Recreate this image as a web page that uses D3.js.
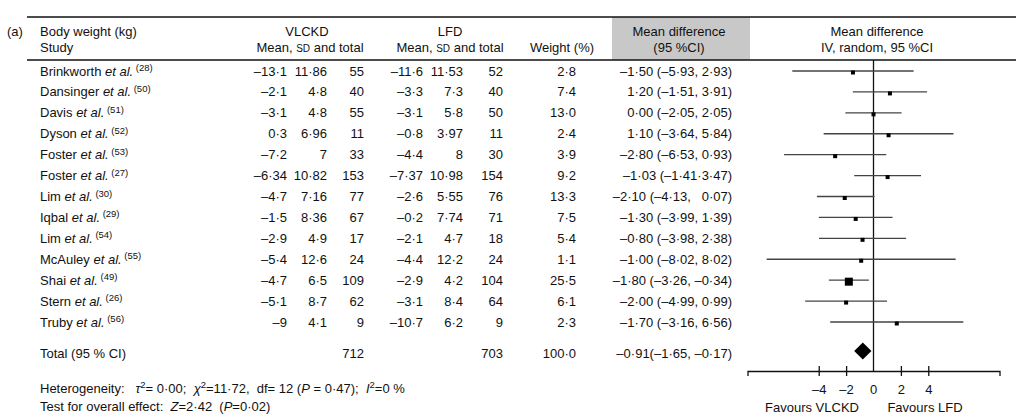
<!DOCTYPE html>
<html>
<head>
<meta charset="utf-8">
<script src="https://cdn.jsdelivr.net/npm/d3@7/dist/d3.min.js"></script>
<style>
body{margin:0;background:#fff;}
svg text{font-family:"Liberation Sans",Arial,sans-serif;font-size:13px;fill:#111;}
</style>
</head>
<body>
<div id="chart-area"></div>
<script>
// ---------- DATA ----------
let studies=["Brinkworth","Dansinger","Davis","Dyson","Foster","Foster","Lim","Iqbal","Lim","McAuley","Shai","Stern","Truby"];
let refs=[28,50,51,52,53,27,30,29,54,55,49,26,56];
let vlMean=[-13.1,-2.1,-3.1,0.3,-7.2,-6.34,-4.7,-1.5,-2.9,-5.4,-4.7,-5.1,-9];
let vlSD=[11.86,4.8,4.8,6.96,7,10.82,7.16,8.36,4.9,12.6,6.5,8.7,4.1];
let vlN=[55,40,55,11,33,153,77,67,17,24,109,62,9];
let lfMean=[-11.6,-3.3,-3.1,-0.8,-4.4,-7.37,-2.6,-0.2,-2.1,-4.4,-2.9,-3.1,-10.7];
let lfSD=[11.53,7.3,5.8,3.97,8,10.98,5.55,7.74,4.7,12.2,4.2,8.4,6.2];
let lfN=[52,40,50,11,30,154,76,71,18,24,104,64,9];
let weight=[2.8,7.4,13.0,2.4,3.9,9.2,13.3,7.5,5.4,1.1,25.5,6.1,2.3];
let ciText=["–1·50 (–5·93, 2·93)","1·20 (–1·51, 3·91)","0·00 (–2·05, 2·05)","1·10 (–3·64, 5·84)",
  "–2·80 (–6·53, 0·93)","–1·03 (–1·41·3·47)","–2·10 (–4·13,\u00a0\u00a0 0·07)","–1·30 (–3·99, 1·39)",
  "–0·80 (–3·98, 2·38)","–1·00 (–8·02, 8·02)","–1·80 (–3·26, –0·34)","–2·00 (–4·99, 0·99)","–1·70 (–3·16, 6·56)"];
// positions as drawn in the plot panel
let plotMean=[-1.5,1.2,0,1.1,-2.8,1.03,-2.1,-1.3,-0.8,-0.9,-1.8,-2.0,1.7];
let plotLo=[-5.93,-1.51,-2.05,-3.64,-6.53,-1.41,-4.13,-3.99,-3.98,-7.8,-3.26,-4.99,-3.16];
let plotHi=[2.93,3.91,2.05,5.84,0.93,3.47,0.07,1.39,2.38,6.0,-0.34,0.99,6.56];
let totalN=[712,703];
let totalWeight=100.0;
let totalText="–0·91(–1·65, –0·17)";
let diamond=[-1.41,-0.78,-0.15];
let tickVals=[-4,-2,2,4];

let fmt=v=>String(v).replace('-','–').replace('.','·');

// ---------- SVG ----------
let svg=d3.select("#chart-area").append('svg')
  .attr('width',1024)
  .attr('height',420);

// scales
let x=d3.scaleLinear().domain([-9.2,9.2]).range([747.5,999.5]);
let y=d3.scalePoint().domain(d3.range(studies.length)).range([71,322]);
let sq=d3.scaleThreshold().domain([20]).range([4,8]);

// header
svg.append('rect').attr('x',612).attr('y',17).attr('width',138).attr('height',43).attr('fill','#c8c8c8');
svg.append('line').attr('x1',27).attr('x2',1016).attr('y1',17).attr('y2',17).attr('stroke','#111').attr('stroke-width',1.5);
svg.append('line').attr('x1',27).attr('x2',1016).attr('y1',60).attr('y2',60).attr('stroke','#111').attr('stroke-width',1.5);

function label(tx,ty,str,anchor){
  return svg.append('text').attr('x',tx).attr('y',ty).attr('dy','0.35em')
    .attr('text-anchor',anchor||'start').text(str);
}
label(7,31,'(a)');
label(40,31,'Body weight (kg)');
label(40,47,'Study');
label(307,31,'VLCKD','middle');
label(450,31,'LFD','middle');
[310,450].forEach(cx=>{
  let t=svg.append('text').attr('x',cx).attr('y',47).attr('dy','0.35em').attr('text-anchor','middle');
  t.append('tspan').text('Mean, ');
  t.append('tspan').attr('font-size','10px').text('SD');
  t.append('tspan').text(' and total');
});
label(562,47,'Weight (%)','middle');
label(679,31,'Mean difference','middle');
label(679,47,'(95 %CI)','middle');
label(877,31,'Mean difference','middle');
label(877,47,'IV, random, 95 %CI','middle');

// study rows
studies.forEach(function(s,i){
  let t=svg.append('text').attr('x',40).attr('y',y(i)).attr('dy','0.35em');
  t.append('tspan').text(s+' ');
  t.append('tspan').attr('font-style','italic').text('et al.');
  t.append('tspan').attr('font-size','9.5px').attr('dy',-4.5).text(' ('+refs[i]+')');

  label(287,y(i),fmt(vlMean[i]),'end');
  label(327,y(i),fmt(vlSD[i]),'end');
  label(364,y(i),vlN[i],'end');
  label(423,y(i),fmt(lfMean[i]),'end');
  label(463,y(i),fmt(lfSD[i]),'end');
  label(503,y(i),lfN[i],'end');
  label(576,y(i),weight[i].toFixed(1).replace('.','·'),'end');
  label(732,y(i),ciText[i],'end');
});

// totals
let yTot=353;
label(40,yTot,'Total (95 % CI)');
label(364,yTot,totalN[0],'end');
label(503,yTot,totalN[1],'end');
label(576,yTot,totalWeight.toFixed(1).replace('.','·'),'end');
label(732,yTot,totalText,'end');

// heterogeneity
let h=svg.append('text').attr('x',40).attr('y',388).attr('dy','0.35em');
h.append('tspan').text('Heterogeneity:\u00a0\u00a0 ');
h.append('tspan').attr('font-style','italic').text('τ');
h.append('tspan').attr('font-size','9.5px').attr('dy',-4.5).text('2');
h.append('tspan').attr('dy',4.5).text('= 0·00;\u00a0 ');
h.append('tspan').attr('font-style','italic').text('χ');
h.append('tspan').attr('font-size','9.5px').attr('dy',-4.5).text('2');
h.append('tspan').attr('dy',4.5).text('=11·72,\u00a0 df= 12 (');
h.append('tspan').attr('font-style','italic').text('P');
h.append('tspan').text(' = 0·47);\u00a0 ');
h.append('tspan').attr('font-style','italic').text('I');
h.append('tspan').attr('font-size','9.5px').attr('dy',-4.5).text('2');
h.append('tspan').attr('dy',4.5).text('=0 %');

let te=svg.append('text').attr('x',40).attr('y',406).attr('dy','0.35em');
te.append('tspan').text('Test for overall effect:\u00a0 ');
te.append('tspan').attr('font-style','italic').text('Z');
te.append('tspan').text('=2·42\u00a0 (');
te.append('tspan').attr('font-style','italic').text('P');
te.append('tspan').text('=0·02)');

// ---------- FOREST PANEL ----------
let g=svg.append('g');
let axisY=371;

g.append('line').attr('x1',x(0)).attr('x2',x(0)).attr('y1',60).attr('y2',axisY)
  .attr('stroke','#111').attr('stroke-width',1.3);

g.selectAll('line.ci').data(studies).enter().append('line')
  .attr('class','ci')
  .attr('x1',(d,i)=>x(plotLo[i]))
  .attr('x2',(d,i)=>x(plotHi[i]))
  .attr('y1',(d,i)=>y(i)).attr('y2',(d,i)=>y(i))
  .attr('stroke','#444').attr('stroke-width',1.3);

g.selectAll('rect.pt').data(studies).enter().append('rect')
  .attr('class','pt')
  .attr('x',(d,i)=>x(plotMean[i])-sq(weight[i])/2)
  .attr('y',(d,i)=>y(i)+1.5-sq(weight[i])/2)
  .attr('width',(d,i)=>sq(weight[i]))
  .attr('height',(d,i)=>sq(weight[i]))
  .attr('fill','#000');

g.append('path')
  .attr('d','M'+x(diamond[0])+','+(yTot-2)+'L'+x(diamond[1])+','+(yTot-10.5)+'L'+x(diamond[2])+','+(yTot-2)+'L'+x(diamond[1])+','+(yTot+6.5)+'Z')
  .attr('fill','#000');

// axis
let xAxis=d3.axisBottom(x).tickValues(tickVals).tickSizeOuter(0).tickSize(5)
  .tickFormat(d=>d<0?'–'+Math.abs(d):d);
let ax=g.append('g').attr('transform','translate(0,'+axisY+')').call(xAxis);
ax.select('.domain').attr('stroke','#111').attr('stroke-width',1.3);
ax.selectAll('.tick line').attr('y1',-5).attr('y2',5).attr('stroke','#111').attr('stroke-width',1.3);
ax.selectAll('.tick text').attr('y',18).attr('dy','0.35em')
  .attr('font-family','"Liberation Sans",Arial,sans-serif').attr('font-size','13px').attr('fill','#111');
let zt=ax.append('text').attr('x',x(0)).attr('y',18).attr('dy','0.35em').attr('text-anchor','middle').text('0');

label(812,407,'Favours VLCKD','middle');
label(925,407,'Favours LFD','middle');
</script>
</body>
</html>
